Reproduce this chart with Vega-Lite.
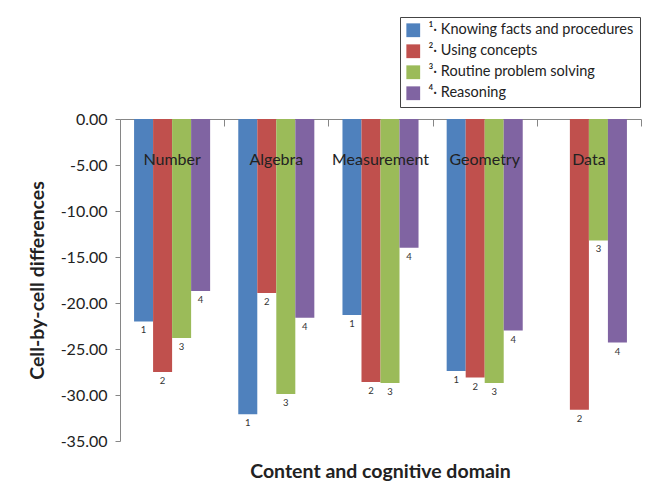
{
  "$schema": "https://vega.github.io/schema/vega-lite/v6.json",
  "width": 521,
  "height": 322,
  "autosize": {"type": "none"},
  "padding": {"left": 120, "top": 119, "right": 10, "bottom": 42},
  "config": {"font": "Lato", "view": {"stroke": null}},
  "title": {"text": "Content and cognitive domain", "orient": "bottom", "fontSize": 19.5, "fontWeight": "bold", "color": "#222", "offset": 14},
  "datasets": {
    "bars": [
      {"domain": "Number", "level": "¹· Knowing facts and procedures", "code": "1", "value": -22.0},
      {"domain": "Number", "level": "²· Using concepts", "code": "2", "value": -27.5},
      {"domain": "Number", "level": "³· Routine problem solving", "code": "3", "value": -23.8},
      {"domain": "Number", "level": "⁴· Reasoning", "code": "4", "value": -18.7},
      {"domain": "Algebra", "level": "¹· Knowing facts and procedures", "code": "1", "value": -32.1},
      {"domain": "Algebra", "level": "²· Using concepts", "code": "2", "value": -18.9},
      {"domain": "Algebra", "level": "³· Routine problem solving", "code": "3", "value": -29.9},
      {"domain": "Algebra", "level": "⁴· Reasoning", "code": "4", "value": -21.6},
      {"domain": "Measurement", "level": "¹· Knowing facts and procedures", "code": "1", "value": -21.3},
      {"domain": "Measurement", "level": "²· Using concepts", "code": "2", "value": -28.6},
      {"domain": "Measurement", "level": "³· Routine problem solving", "code": "3", "value": -28.7},
      {"domain": "Measurement", "level": "⁴· Reasoning", "code": "4", "value": -14.0},
      {"domain": "Geometry", "level": "¹· Knowing facts and procedures", "code": "1", "value": -27.4},
      {"domain": "Geometry", "level": "²· Using concepts", "code": "2", "value": -28.1},
      {"domain": "Geometry", "level": "³· Routine problem solving", "code": "3", "value": -28.7},
      {"domain": "Geometry", "level": "⁴· Reasoning", "code": "4", "value": -23.0},
      {"domain": "Data", "level": "²· Using concepts", "code": "2", "value": -31.6},
      {"domain": "Data", "level": "³· Routine problem solving", "code": "3", "value": -13.2},
      {"domain": "Data", "level": "⁴· Reasoning", "code": "4", "value": -24.3}
    ],
    "names": [
      {"domain": "Number"}, {"domain": "Algebra"}, {"domain": "Measurement"}, {"domain": "Geometry"}, {"domain": "Data"}
    ]
  },
  "layer": [
    {
      "data": {"name": "bars"},
      "mark": {"type": "bar"},
      "encoding": {
        "x": {
          "field": "domain", "type": "nominal",
          "sort": ["Number", "Algebra", "Measurement", "Geometry", "Data"],
          "scale": {"domain": ["Number", "Algebra", "Measurement", "Geometry", "Data"], "paddingInner": 0, "paddingOuter": 0},
          "axis": {"orient": "top", "labels": false, "title": null, "tickBand": "extent", "tickSize": -7, "domainColor": "#868686", "tickColor": "#868686"}
        },
        "xOffset": {
          "field": "level", "type": "nominal",
          "scale": {"domain": ["¹· Knowing facts and procedures", "²· Using concepts", "³· Routine problem solving", "⁴· Reasoning"], "paddingInner": 0, "paddingOuter": 0.74}
        },
        "y": {
          "field": "value", "type": "quantitative",
          "scale": {"domain": [-35, 0], "nice": false, "zero": true},
          "axis": {
            "values": [0, -5, -10, -15, -20, -25, -30, -35],
            "labelExpr": "(datum.value < 0 ? '-' : '') + format(abs(datum.value), '.2f')",
            "grid": false,
            "labelFontSize": 16, "labelColor": "#222", "labelPadding": 8,
            "domainColor": "#868686", "tickColor": "#868686", "tickSize": 5,
            "title": "Cell-by-cell differences", "titleFontSize": 19.5, "titleFontWeight": "bold", "titleColor": "#222", "titlePadding": 13
          }
        },
        "color": {
          "field": "level", "type": "nominal",
          "scale": {
            "domain": ["¹· Knowing facts and procedures", "²· Using concepts", "³· Routine problem solving", "⁴· Reasoning"],
            "range": ["#4F81BD", "#C0504D", "#9BBB59", "#8064A2"]
          },
          "legend": {
            "orient": "none", "legendX": 280, "legendY": -102,
            "title": null, "symbolType": "square", "symbolSize": 190, "symbolStrokeWidth": 0,
            "labelFontSize": 14.5, "labelColor": "#222", "labelLimit": 400, "labelOffset": 8,
            "strokeColor": "#444", "fillColor": "white", "padding": 6, "rowPadding": 5, "offset": 0
          }
        }
      }
    },
    {
      "data": {"name": "bars"},
      "mark": {"type": "text", "dy": 9, "baseline": "middle", "fontSize": 9.5, "color": "#333"},
      "encoding": {
        "x": {"field": "domain", "type": "nominal"},
        "xOffset": {"field": "level", "type": "nominal"},
        "y": {"field": "value", "type": "quantitative"},
        "text": {"field": "code"}
      }
    },
    {
      "data": {"name": "names"},
      "mark": {"type": "text", "baseline": "middle", "fontSize": 16, "color": "#222"},
      "encoding": {
        "x": {"field": "domain", "type": "nominal"},
        "y": {"datum": -4.5},
        "text": {"field": "domain"}
      }
    }
  ]
}
